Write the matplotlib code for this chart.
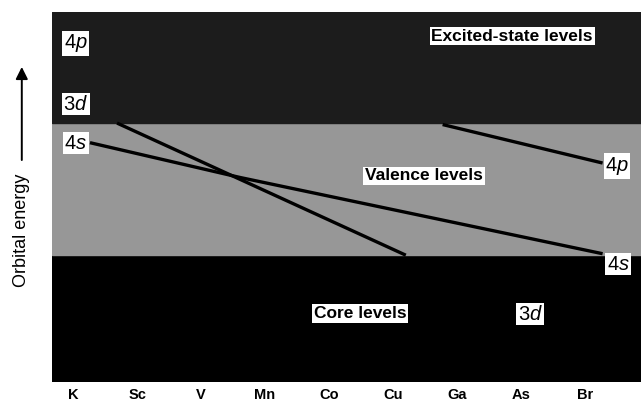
import matplotlib
matplotlib.use("Agg")
import matplotlib.pyplot as plt

plt.rcParams['font.family'] = ['Liberation Sans', 'DejaVu Sans']
plt.rcParams['mathtext.fontset'] = 'custom'
plt.rcParams['mathtext.it'] = 'Liberation Sans:italic'
plt.rcParams['mathtext.rm'] = 'Liberation Sans'

# elements on the x axis (atomic number)
elements = ['K', 'Sc', 'V', 'Mn', 'Co', 'Cu', 'Ga', 'As', 'Br']
z_numbers = [19, 21, 23, 25, 27, 29, 31, 33, 35]

# energy bands (arbitrary units)
core_top = 3.43
valence_top = 7.0
plot_top = 10.0

# orbital energy lines (x = atomic number, y = energy)
line_3d_x = [20.375, 29.4]
line_3d_y = [7.0, 3.43]
line_4s_x = [19.53, 24.22, 35.55]
line_4s_y = [6.47, 5.53, 3.47]
line_4p_x = [30.55, 35.55]
line_4p_y = [6.96, 5.92]

fig = plt.figure(figsize=(6.41, 4.01), dpi=100)
ax = fig.add_axes([0.081, 0.047, 0.919, 0.923])

xmin, xmax = 18.34, 36.75
ax.axhspan(0, core_top, color='black', zorder=0)
ax.axhspan(core_top, valence_top, color='#979797', zorder=0)
ax.axhspan(valence_top, plot_top, color='#1c1c1c', zorder=0)

ax.plot(line_3d_x, line_3d_y, color='black', lw=2.4, solid_capstyle='butt')
ax.plot(line_4s_x, line_4s_y, color='black', lw=2.4, solid_capstyle='butt')
ax.plot(line_4p_x, line_4p_y, color='black', lw=2.4, solid_capstyle='butt')

box = dict(facecolor='white', edgecolor='none', pad=1.2)
orb = dict(fontsize=14.5, color='black', bbox=box, ha='center', va='center')
ax.text(19.09, 9.16, '4$\\it{p}$', **orb)
ax.text(19.09, 7.51, '3$\\it{d}$', **orb)
ax.text(19.09, 6.46, '4$\\it{s}$', **orb)
ax.text(36.0, 5.84, '4$\\it{p}$', **orb)
ax.text(36.03, 3.19, '4$\\it{s}$', **orb)
ax.text(33.28, 1.84, '3$\\it{d}$', **orb)

lab = dict(fontsize=12.5, fontweight='bold', color='black', bbox=box,
           ha='center', va='center')
ax.text(32.72, 9.35, 'Excited-state levels', **lab)
ax.text(29.97, 5.57, 'Valence levels', **lab)
ax.text(27.97, 1.86, 'Core levels', **lab)

ax.set_xlim(xmin, xmax)
ax.set_ylim(0, plot_top)
ax.set_xticks(z_numbers)
ax.set_xticklabels(elements, fontsize=10.5, fontweight='bold')
ax.tick_params(axis='x', length=0, pad=4)
ax.set_yticks([])
for side in ['top', 'right', 'bottom', 'left']:
    ax.spines[side].set_visible(False)

# y-axis label with upward arrow
fig.text(0.033, 0.426, 'Orbital energy', rotation=90, fontsize=13,
         ha='center', va='center')
fig.patches.append(matplotlib.patches.FancyArrowPatch(
    (0.034, 0.594), (0.034, 0.840), transform=fig.transFigure,
    arrowstyle='-|>', mutation_scale=18, lw=1.4, color='black'))

plt.savefig('out.png', dpi=100)
